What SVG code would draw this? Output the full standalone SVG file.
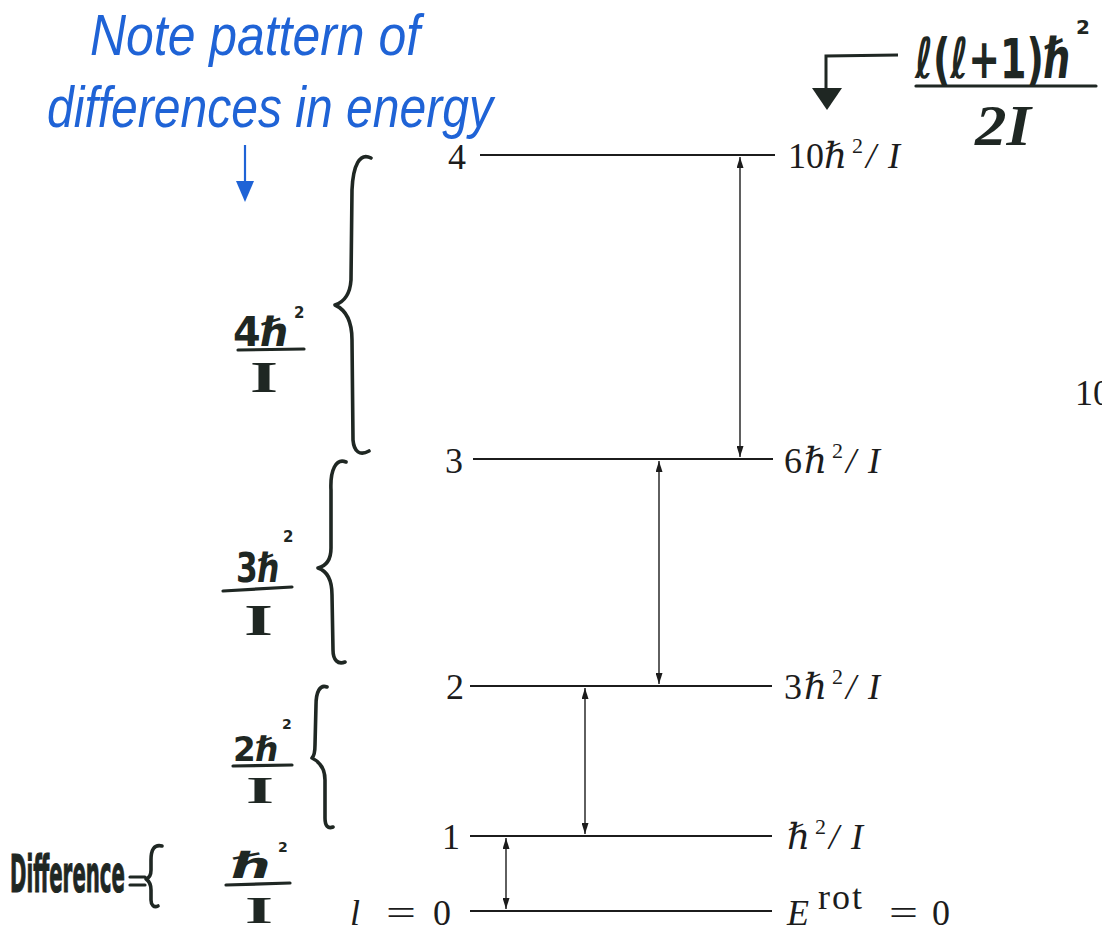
<svg xmlns="http://www.w3.org/2000/svg" width="1102" height="931" viewBox="0 0 1102 931">
<style>
.lvl{stroke:#1c1c1c;stroke-width:2.2;fill:none}
.arr{stroke:#1c1c1c;stroke-width:1.4;fill:none;marker-start:url(#ah);marker-end:url(#ah)}
.pr{font-family:"Liberation Serif","DejaVu Serif",serif;font-size:36px;fill:#1c1c1c}
.it{font-style:italic}
.sup{font-size:22px}
.hw{font-family:"DejaVu Sans","Liberation Sans",sans-serif;font-weight:bold;fill:#1f2723}
.hwI{font-family:"Liberation Serif","DejaVu Serif",serif;font-weight:bold;fill:#1f2723}
.brace{stroke:#1f2723;stroke-width:3.6;fill:none;stroke-linecap:round;stroke-linejoin:round}
.bar{stroke:#1f2723;stroke-width:3.2;stroke-linecap:round}
.blue{font-family:"Liberation Sans","DejaVu Sans",sans-serif;fill:#1f63d6;font-style:italic}
</style>
<defs>
<marker id="ah" viewBox="0 0 11 7" refX="11" refY="3.5" markerWidth="11" markerHeight="7" markerUnits="userSpaceOnUse" orient="auto-start-reverse">
<path d="M0,0 L11,3.5 L0,7 z" fill="#1c1c1c"/>
</marker>
</defs>
<rect width="1102" height="931" fill="#ffffff"/>

<g id="note">
<text class="blue" x="90" y="55" font-size="58" textLength="330" lengthAdjust="spacingAndGlyphs">Note pattern of</text>
<text class="blue" x="47" y="127" font-size="58" textLength="446" lengthAdjust="spacingAndGlyphs">differences in energy</text>
<line x1="245" y1="145" x2="245" y2="186" stroke="#1f63d6" stroke-width="2.2"/>
<path d="M236,181 L254,181 L245,202 z" fill="#1f63d6"/>
</g>

<g id="formula">
<text class="hw" x="915" y="78" font-size="56" textLength="156" lengthAdjust="spacingAndGlyphs">ℓ(ℓ+1)ℏ</text>
<text class="hw" x="1076" y="34" font-size="20">2</text>
<line class="bar" x1="916" y1="86" x2="1096" y2="86" stroke-width="4"/>
<text class="hwI" x="975" y="145" font-size="58" font-style="italic" textLength="56" lengthAdjust="spacingAndGlyphs">2I</text>
<path d="M898,55 L826,56 L826,92" stroke="#1f2723" stroke-width="3" fill="none"/>
<path d="M812,88 L842,88 L827,110 z" fill="#1f2723"/>
</g>

<g id="level4">
<line class="lvl" x1="480" y1="155" x2="775" y2="155"/>
<text class="pr" x="448" y="169">4</text>
<text class="pr" y="168"><tspan x="788">10</tspan><tspan class="it" x="824">ℏ</tspan><tspan class="sup" x="852" y="153">2</tspan><tspan class="it" x="866" y="168">/</tspan><tspan class="it" x="888">I</tspan></text>
</g>
<g id="level3">
<line class="lvl" x1="473" y1="459" x2="773" y2="459"/>
<text class="pr" x="445" y="473">3</text>
<text class="pr" y="473"><tspan x="784">6</tspan><tspan class="it" x="804">ℏ</tspan><tspan class="sup" x="832" y="458">2</tspan><tspan class="it" x="846" y="473">/</tspan><tspan class="it" x="868">I</tspan></text>
</g>
<g id="level2">
<line class="lvl" x1="470" y1="686" x2="772" y2="686"/>
<text class="pr" x="446" y="699">2</text>
<text class="pr" y="699"><tspan x="784">3</tspan><tspan class="it" x="804">ℏ</tspan><tspan class="sup" x="832" y="684">2</tspan><tspan class="it" x="846" y="699">/</tspan><tspan class="it" x="868">I</tspan></text>
</g>
<g id="level1">
<line class="lvl" x1="470" y1="836" x2="772" y2="836"/>
<text class="pr" x="442" y="849">1</text>
<text class="pr" y="849"><tspan class="it" x="787">ℏ</tspan><tspan class="sup" x="815" y="834">2</tspan><tspan class="it" x="829" y="849">/</tspan><tspan class="it" x="851">I</tspan></text>
</g>
<g id="level0">
<line class="lvl" x1="470" y1="911" x2="772" y2="911"/>
<text class="pr it" x="350" y="925">l</text>
<text class="pr" x="386" y="925" textLength="30" lengthAdjust="spacingAndGlyphs">=</text>
<text class="pr" x="433" y="925">0</text>
<text class="pr it" x="787" y="925" font-size="38">E</text>
<text class="pr" x="818" y="909" font-size="24" textLength="44" lengthAdjust="spacing">rot</text>
<text class="pr" x="889" y="925" textLength="29" lengthAdjust="spacingAndGlyphs">=</text>
<text class="pr" x="932" y="925">0</text>
</g>

<g id="connectors">
<line class="arr" x1="740" y1="157" x2="740" y2="457"/>
<line class="arr" x1="659" y1="461" x2="659" y2="684"/>
<line class="arr" x1="585" y1="688" x2="585" y2="834"/>
<line class="arr" x1="506" y1="838" x2="506" y2="909"/>
</g>

<g id="diff4">
<path class="brace" d="M371,158 C360,152 353,165 352,190 L351,280 C350,295 344,302 335,305 C346,310 352,320 352,340 L353,440 C354,452 360,456 369,451"/>
<text class="hw" x="233" y="346" font-size="40" textLength="56" lengthAdjust="spacingAndGlyphs">4ℏ</text>
<text class="hw" x="294" y="318" font-size="15">2</text>
<line class="bar" x1="238" y1="350" x2="304" y2="349"/>
<text class="hwI" x="250" y="392" font-size="44" textLength="28" lengthAdjust="spacingAndGlyphs">I</text>
</g>
<g id="diff3">
<path class="brace" d="M346,462 C336,458 330,470 331,490 L331,548 C331,560 326,566 318,568 C327,571 332,580 332,595 L333,650 C333,660 338,665 345,662"/>
<text class="hw" x="236" y="582" font-size="40" textLength="44" lengthAdjust="spacingAndGlyphs">3ℏ</text>
<text class="hw" x="283" y="542" font-size="15">2</text>
<line class="bar" x1="223" y1="591" x2="292" y2="587"/>
<text class="hwI" x="244" y="635" font-size="44" textLength="29" lengthAdjust="spacingAndGlyphs">I</text>
</g>
<g id="diff2">
<path class="brace" d="M327,687 C320,684 316,692 316,705 L315,745 C315,752 314,756 312,758 C320,762 325,770 325,780 L325,818 C325,826 328,829 333,827"/>
<text class="hw" x="233" y="761" font-size="34" textLength="46" lengthAdjust="spacingAndGlyphs">2ℏ</text>
<text class="hw" x="282" y="729" font-size="14">2</text>
<line class="bar" x1="233" y1="766" x2="292" y2="765"/>
<text class="hwI" x="246" y="803" font-size="38" textLength="28" lengthAdjust="spacingAndGlyphs">I</text>
</g>
<g id="diff1">
<text class="hw" x="10" y="892" font-size="52" font-weight="normal" stroke="#1f2723" stroke-width="1.2" textLength="115" lengthAdjust="spacingAndGlyphs">Difference</text>
<line class="bar" x1="130" y1="877" x2="145" y2="877"/>
<line class="bar" x1="130" y1="885" x2="145" y2="885"/>
<path class="brace" d="M162,846 C154,844 151,850 151,860 L151,870 C151,875 149,878 146,879 C149,881 151,884 151,890 L151,900 C151,905 154,908 158,906"/>
<text class="hw" x="232" y="878" font-size="36" textLength="40" lengthAdjust="spacingAndGlyphs">ℏ</text>
<text class="hw" x="278" y="852" font-size="14">2</text>
<line class="bar" x1="226" y1="885" x2="290" y2="883"/>
<text class="hwI" x="245" y="923" font-size="38" textLength="28" lengthAdjust="spacingAndGlyphs">I</text>
</g>

<g id="cut">
<text class="pr" x="1075" y="405">10</text>
</g>
</svg>
